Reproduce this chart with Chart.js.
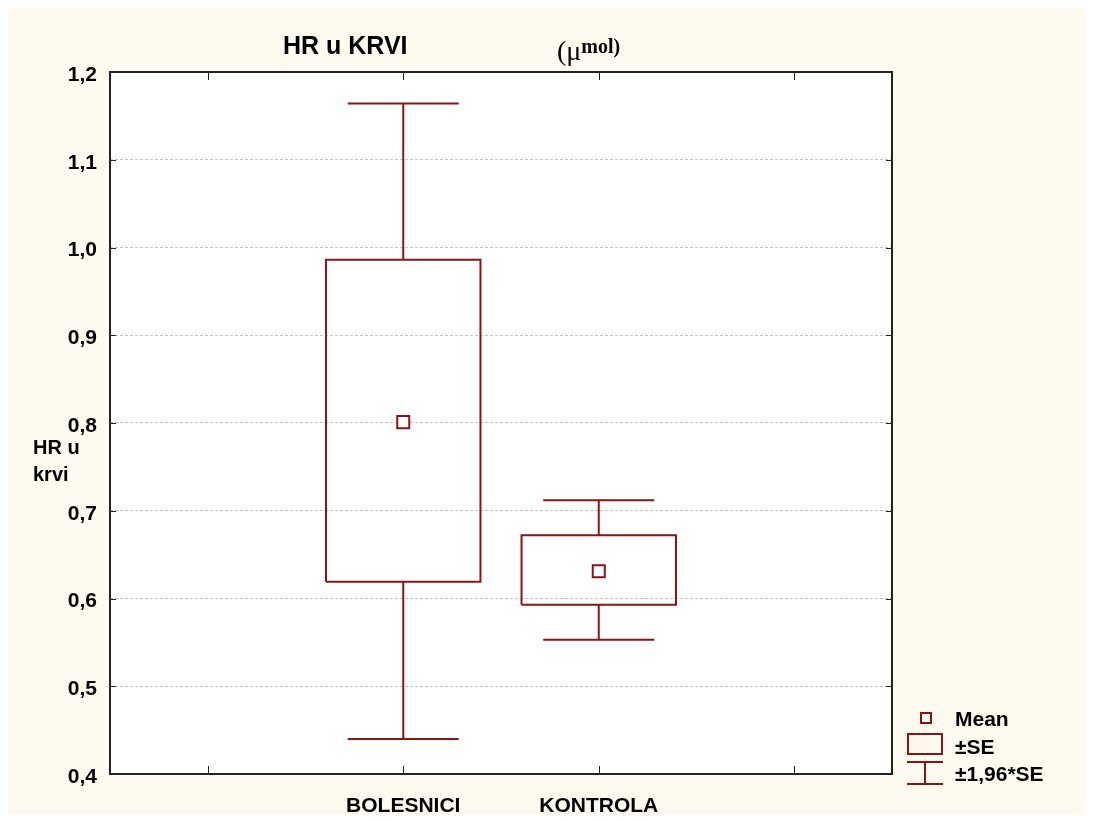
<!DOCTYPE html>
<html>
<head>
    <title>HR u KRVI</title>
    <meta charset="UTF-8" />
    <script src="https://cdn.jsdelivr.net/npm/chart.js"></script>
    <style>
        * {
            margin: 0;
            padding: 0;
            box-sizing: border-box;
        }

        body {
            width: 1093px;
            height: 821px;
            background: #fff;
            font-family: 'Liberation Sans', Arial, sans-serif;
            font-weight: bold;
            color: #000;
            position: relative;
            overflow: hidden;
        }

        .panel {
            position: absolute;
            left: 8px;
            top: 8px;
            width: 1077px;
            height: 807px;
            background: #fffaf0;
        }

        .chart-wrap {
            position: absolute;
            left: 0;
            top: 0;
            width: 1093px;
            height: 821px;
        }

        .txt {
            position: absolute;
            white-space: nowrap;
        }

        .title { left: 283px; top: 31px; font-size: 25px; line-height: 28px; }

        .unit {
            left: 557px; top: 31px;
            font-family: 'Liberation Serif', 'Times New Roman', serif;
            font-weight: normal;
            font-size: 28px; line-height: 30px;
        }
        .unit sup { font-weight: bold; font-size: 20px; vertical-align: 7px; }

        .ylabel { left: 33px; top: 434px; font-size: 20px; line-height: 27px; }

        .leg-text { left: 955px; font-size: 21px; line-height: 24px; }

        .sym { position: absolute; border: 2px solid #8c1414; }
        .line { position: absolute; background: #8c1414; }
    </style>
</head>

<body>

<div class="panel"></div>

<div class="chart-wrap">
    <canvas id="chart"></canvas>
</div>

<!-- Titles -->
<div class="txt title">HR u KRVI</div>
<div class="txt unit">(μ<sup>mol)</sup></div>
<div class="txt ylabel">HR u<br>krvi</div>

<!-- Legend -->
<div class="sym" style="left:920px; top:712px; width:12px; height:12px;"></div>
<div class="txt leg-text" style="top:707px;">Mean</div>

<div class="sym" style="left:907px; top:733px; width:36px; height:22px;"></div>
<div class="txt leg-text" style="top:735px;">±SE</div>

<div class="line" style="left:907px; top:761px; width:36px; height:2px;"></div>
<div class="line" style="left:924px; top:761px; width:2px; height:23px;"></div>
<div class="line" style="left:907px; top:783px; width:36px; height:2px;"></div>
<div class="txt leg-text" style="top:762px;">±1,96*SE</div>

<script>
    // data
    const categories = ['BOLESNICI', 'KONTROLA'];
    const catPos = [1, 2];
    const means = [0.801, 0.631];
    const seLow = [0.619, 0.593];
    const seHigh = [0.986, 0.672];
    const ciLow = [0.440, 0.553];
    const ciHigh = [1.164, 0.712];
    const yTickValues = [0.4, 0.5, 0.6, 0.7, 0.8, 0.9, 1.0, 1.1, 1.2];
    const xTickMarks = [0, 1, 2, 3];

    const BOX_HALF = 0.395;
    const CAP_HALF = 0.284;
    const RED = '#8c1414';

    function gap(x) { return {x: x, y: null}; }

    // ±SE boxes, drawn as closed outlines
    const boxPts = [];
    catPos.forEach((c, i) => {
        boxPts.push({x: c - BOX_HALF, y: seLow[i]}, {x: c + BOX_HALF, y: seLow[i]},
            {x: c + BOX_HALF, y: seHigh[i]}, {x: c - BOX_HALF, y: seHigh[i]},
            {x: c - BOX_HALF, y: seLow[i]}, gap(c));
    });

    // ±1.96*SE whiskers with caps
    const whiskPts = [];
    catPos.forEach((c, i) => {
        whiskPts.push({x: c, y: seHigh[i]}, {x: c, y: ciHigh[i]}, gap(c),
            {x: c - CAP_HALF, y: ciHigh[i]}, {x: c + CAP_HALF, y: ciHigh[i]}, gap(c),
            {x: c, y: seLow[i]}, {x: c, y: ciLow[i]}, gap(c),
            {x: c - CAP_HALF, y: ciLow[i]}, {x: c + CAP_HALF, y: ciLow[i]}, gap(c));
    });

    const meanPts = catPos.map((c, i) => ({x: c, y: means[i]}));

    const framePlugin = {
        id: 'frame',
        beforeDraw(chart) {
            const {ctx, chartArea: a} = chart;
            ctx.save();
            ctx.fillStyle = '#fff';
            ctx.fillRect(a.left, a.top, a.right - a.left, a.bottom - a.top);
            ctx.restore();
        },
        afterDraw(chart) {
            const {ctx, chartArea: a, scales: {x, y}} = chart;
            ctx.save();
            ctx.strokeStyle = '#222';
            ctx.lineWidth = 1;
            ctx.beginPath();
            xTickMarks.forEach(v => {
                const px = Math.round(x.getPixelForValue(v)) + 0.5;
                ctx.moveTo(px, a.bottom); ctx.lineTo(px, a.bottom - 8);
                ctx.moveTo(px, a.top); ctx.lineTo(px, a.top + 8);
            });
            yTickValues.forEach(v => {
                const py = Math.round(y.getPixelForValue(v)) + 0.5;
                ctx.moveTo(a.left, py); ctx.lineTo(a.left + 6, py);
                ctx.moveTo(a.right, py); ctx.lineTo(a.right - 6, py);
            });
            ctx.stroke();
            ctx.lineWidth = 2;
            ctx.strokeRect(a.left, a.top, a.right - a.left, a.bottom - a.top);
            ctx.restore();
        }
    };

    Chart.defaults.font.family = "'Liberation Sans', Arial, sans-serif";
    Chart.defaults.font.weight = 'bold';
    Chart.defaults.font.size = 21;
    Chart.defaults.color = '#000';

    new Chart(document.getElementById('chart'), {
        type: 'line',
        data: {
            datasets: [
                {
                    data: boxPts,
                    borderColor: RED,
                    borderWidth: 2,
                    pointRadius: 0,
                    spanGaps: false,
                    fill: false
                },
                {
                    data: whiskPts,
                    borderColor: RED,
                    borderWidth: 2,
                    pointRadius: 0,
                    spanGaps: false,
                    fill: false
                },
                {
                    data: meanPts,
                    showLine: false,
                    pointStyle: 'rect',
                    pointRadius: 8.5,
                    pointBorderWidth: 2,
                    pointBorderColor: RED,
                    pointBackgroundColor: '#fff'
                }
            ]
        },
        options: {
            responsive: true,
            maintainAspectRatio: false,
            animation: false,
            events: [],
            layout: {
                padding: {left: 0, top: 72, right: 201, bottom: 0}
            },
            plugins: {
                legend: {display: false},
                tooltip: {enabled: false},
                title: {display: false}
            },
            scales: {
                x: {
                    type: 'linear',
                    min: -0.5,
                    max: 3.5,
                    afterBuildTicks: scale => {
                        scale.ticks = catPos.map(v => ({value: v}));
                    },
                    afterFit: scale => { scale.height = 47; },
                    ticks: {
                        padding: 12,
                        callback: v => categories[catPos.indexOf(v)]
                    },
                    grid: {display: false},
                    border: {display: false}
                },
                y: {
                    min: 0.4,
                    max: 1.2,
                    afterBuildTicks: scale => {
                        scale.ticks = yTickValues.map(v => ({value: v}));
                    },
                    afterFit: scale => { scale.width = 110; },
                    ticks: {
                        padding: 13,
                        labelOffset: 3,
                        callback: v => Number(v).toFixed(1).replace('.', ',')
                    },
                    grid: {
                        color: '#c4c4c4',
                        lineWidth: 1,
                        drawTicks: false
                    },
                    border: {display: false, dash: [3, 2]}
                }
            }
        },
        plugins: [framePlugin]
    });
</script>

</body>
</html>
